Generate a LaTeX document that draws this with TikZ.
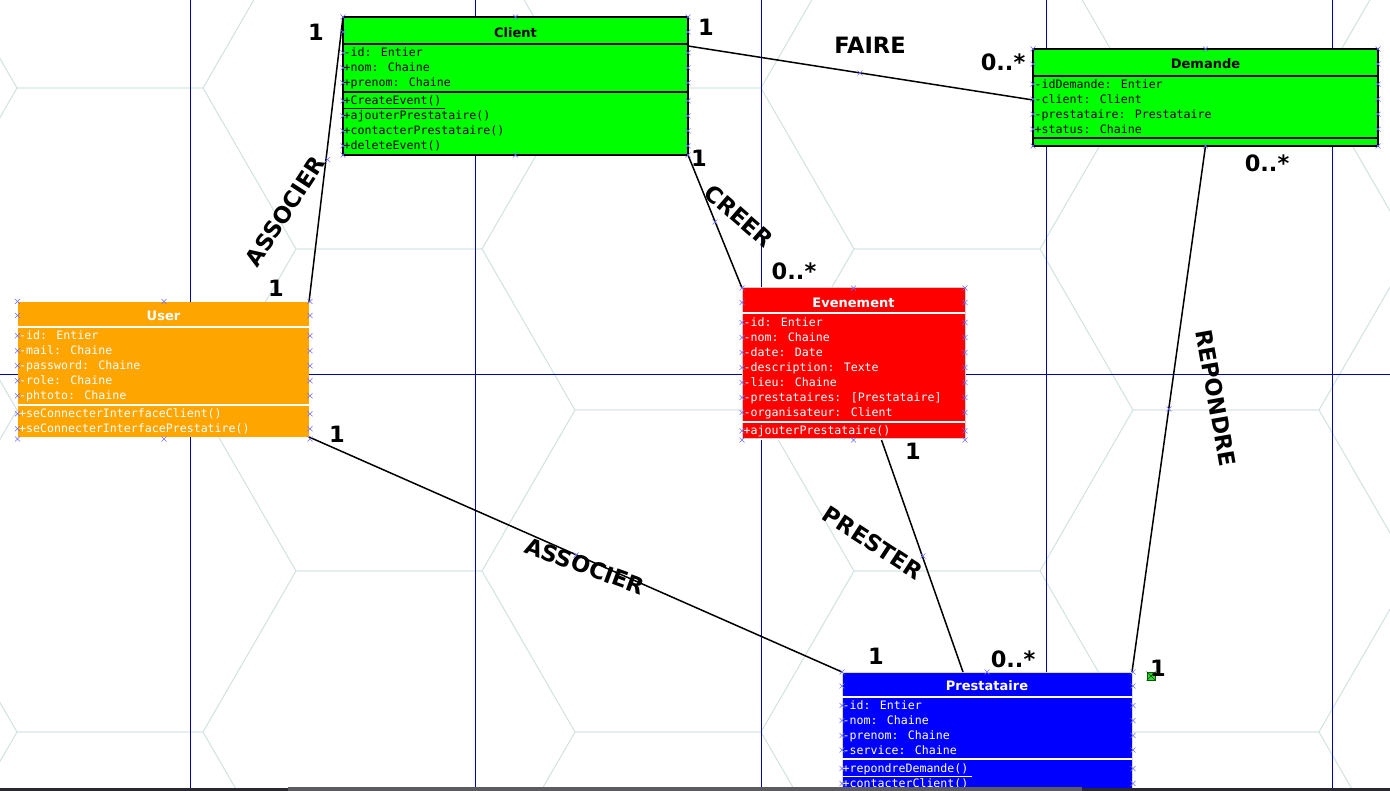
\documentclass[tikz,border=0pt]{standalone}
\usepackage{fontspec}
\setmainfont{DejaVu Sans}
\newfontfamily\monof{DejaVu Sans Mono}
\usetikzlibrary{calc}
\definecolor{hexc}{RGB}{214,228,228}
\definecolor{gridb}{RGB}{0,0,170}
\definecolor{mkc}{RGB}{110,110,255}
\definecolor{cgreen}{RGB}{0,255,0}
\definecolor{corange}{RGB}{255,165,0}
\definecolor{cred}{RGB}{255,0,0}
\definecolor{cblue}{RGB}{0,0,255}
\definecolor{sqfill}{RGB}{60,210,60}
\definecolor{sqdraw}{RGB}{0,90,0}
\definecolor{bardark}{RGB}{40,40,46}
\definecolor{barthumb}{RGB}{92,92,96}
\tikzset{
  classbox/.style={rectangle, inner sep=0pt, outer sep=0pt, anchor=north west},
  hdr/.style={font=\fontsize{13}{15}\selectfont\bfseries, inner sep=0pt},
  row/.style={font=\monof\fontsize{11.6}{14}\selectfont, inner sep=0pt, anchor=base west},
  lbl/.style={font=\fontsize{22.5}{26}\selectfont\bfseries, inner sep=0pt},
  conn/.style={line width=1.5pt, black},
  sepblack/.style={line width=2pt, black},
  sepwhite/.style={line width=2pt, white},
  mk/.pic={\draw[mkc, line width=0.6pt] (-2.5,-2.5)--(2.5,2.5) (-2.5,2.5)--(2.5,-2.5);},
}
\begin{document}
\begin{tikzpicture}[x=1pt, y=-1pt]
\clip (0,0) rectangle (1390,791);
\fill[white] (0,0) rectangle (1390,791);
% hexagonal background grid
\foreach \i in {-1,...,5} {
  \foreach \j in {-1,...,3} {
    \pgfmathsetmacro\cx{110+279*\i}
    \pgfmathsetmacro\cy{249+322*\j-161*mod(abs(\i),2)}
    \draw[hexc, line width=0.8pt] (\cx-186,\cy) -- (\cx-93,\cy-161) -- (\cx+93,\cy-161) -- (\cx+186,\cy) -- (\cx+93,\cy+161) -- (\cx-93,\cy+161) -- cycle;
  }
}
% blue guide lines
\foreach \gx in {190,475.5,761,1046.5,1332} {
  \draw[gridb, line width=0.8pt] (\gx,0) -- (\gx,791);
}
\draw[gridb, line width=0.8pt] (0,374) -- (1390,374);

% class boxes
\node[classbox, fill=cgreen, draw=black, line width=2pt, minimum width=345pt, minimum height=138pt] (client) at (343,17) {};
\node[classbox, fill=cgreen, draw=black, line width=2pt, minimum width=345pt, minimum height=97pt] (demande) at (1033,49) {};
\node[classbox, fill=corange, minimum width=291pt, minimum height=135pt] (user) at (18,302) {};
\node[classbox, fill=cred, draw=black!20, line width=1pt, minimum width=223pt, minimum height=151pt] (evenement) at (742,288) {};
\node[classbox, fill=cblue, draw=black!15, line width=1pt, minimum width=290pt, minimum height=140pt] (prestataire) at (842,672) {};

% compartment separators
\draw[sepblack] (client.west |- 0,44) -- (client.east |- 0,44);
\draw[sepblack] (client.west |- 0,92) -- (client.east |- 0,92);
\draw[sepblack] (demande.west |- 0,76) -- (demande.east |- 0,76);
\draw[sepblack] (demande.west |- 0,138) -- (demande.east |- 0,138);
\draw[sepwhite] (user.west |- 0,327) -- (user.east |- 0,327);
\draw[sepwhite] (user.west |- 0,405) -- (user.east |- 0,405);
\draw[sepwhite] (evenement.west |- 0,313) -- (evenement.east |- 0,313);
\draw[sepwhite] (evenement.west |- 0,422) -- (evenement.east |- 0,422);
\draw[sepwhite] (prestataire.west |- 0,697) -- (prestataire.east |- 0,697);
\draw[sepwhite] (prestataire.west |- 0,759) -- (prestataire.east |- 0,759);

% headers
\node[hdr] (clienth) at (515.5,33) {Client};
\node[hdr] (demandeh) at (1205.5,64) {Demande};
\node[hdr, text=white] (userh) at (163.5,316) {User};
\node[hdr, text=white] (evenementh) at (853.5,303) {Evenement};
\node[hdr, text=white] (prestataireh) at (987,686) {Prestataire};

% Client rows
\foreach \t [count=\i] in {{-id: Entier},{+nom: Chaine},{+prenom: Chaine}}
  \node[row] (cla\i) at (343.5,{52.7+15*(\i-1)+4.2}) {\t};
\node[row] (clm1) at (343.5,{100.8+4.2}) {\underline{+CreateEvent()\hspace{4pt}}};
\foreach \t [count=\i] in {{+ajouterPrestataire()},{+contacterPrestataire()},{+deleteEvent()}}
  \node[row] (clm\i b) at (343.5,{115.8+15*(\i-1)+4.2}) {\t};

% Demande rows
\foreach \t [count=\i] in {{-idDemande: Entier},{-client: Client},{-prestataire: Prestataire},{+status: Chaine}}
  \node[row] (dea\i) at (1034.5,{84.2+15*(\i-1)+4.2}) {\t};

% User rows
\foreach \t [count=\i] in {{-id: Entier},{-mail: Chaine},{-password: Chaine},{-role: Chaine},{-phtoto: Chaine}}
  \node[row, text=white] (usa\i) at (19,{335.8+15*(\i-1)+4.2}) {\t};
\foreach \t [count=\i] in {{+seConnecterInterfaceClient()},{+seConnecterInterfacePrestatire()}}
  \node[row, text=white] (usm\i) at (19,{413.8+15*(\i-1)+4.2}) {\t};

% Evenement rows
\foreach \t [count=\i] in {{-id: Entier},{-nom: Chaine},{-date: Date},{-description: Texte},{-lieu: Chaine},{-prestataires: [Prestataire]},{-organisateur: Client}}
  \node[row, text=white] (eva\i) at (743.5,{322.5+15*(\i-1)+4.2}) {\t};
\node[row, text=white] (evm1) at (743.5,{430.8+4.2}) {\underline{+ajouterPrestataire()\hspace{4pt}}};

% Prestataire rows
\foreach \t [count=\i] in {{-id: Entier},{-nom: Chaine},{-prenom: Chaine},{-service: Chaine}}
  \node[row, text=white] (pra\i) at (842.5,{705.5+15*(\i-1)+4.2}) {\t};
\node[row, text=white] (prm1) at (842.5,{768.5+4.2}) {\underline{+repondreDemande()\hspace{4pt}}};
\node[row, text=white] (prm2) at (842.5,{783.5+4.2}) {+contacterClient()};

% connectors
\draw[conn] (client.north west) -- (user.north east);
\draw[conn] ($(client.north east)+(0,29)$) -- ($(demande.north west)+(0,51)$);
\draw[conn] (client.south east) -- (evenement.north west);
\draw[conn] (user.south east) -- (prestataire.north west);
\draw[conn] ($(evenement.south)+(28,1)$) -- ($(prestataire.north)+(-24,0)$);
\draw[conn] (demande.south) -- (prestataire.north east);

% connection point markers
\foreach \y in {17,32,52.7,67.7,82.7,100.8,115.8,130.8,145.8,155} {
  \pic at (343,\y) {mk}; \pic at (688,\y) {mk};
}
\pic at (515.5,17) {mk}; \pic at (515.5,155) {mk};
\foreach \y in {49,64,84.2,99.2,114.2,129.2,146} {
  \pic at (1033,\y) {mk}; \pic at (1378,\y) {mk};
}
\pic at (1205.5,49) {mk}; \pic at (1205.5,146) {mk};
\foreach \y in {301.5,315.5,335.8,350.8,365.8,380.8,395.8,413.8,428.8,439} {
  \pic at (17.5,\y) {mk}; \pic at (310,\y) {mk};
}
\pic at (164,301.5) {mk}; \pic at (164,439) {mk};
\foreach \y in {288,302.5,322.5,337.5,352.5,367.5,382.5,397.5,412.5,430.8,440} {
  \pic at (742,\y) {mk}; \pic at (965,\y) {mk};
}
\pic at (853.5,288) {mk}; \pic at (853.5,440) {mk};
\foreach \y in {672,686,705.5,720.5,735.5,750,768.5,783.5} {
  \pic at (842,\y) {mk}; \pic at (1133,\y) {mk};
}
\pic at (987,672) {mk};
% bend markers on connectors
\pic at (327.5,159.5) {mk};
\pic at (860,73) {mk};
\pic at (715,222) {mk};
\pic at (576,555) {mk};
\pic at (923,556) {mk};
\pic at (1169,409) {mk};

% small green handle
\node[draw=sqdraw, fill=sqfill, line width=0.8pt, minimum size=8pt, inner sep=0pt] (gsq) at (1151,676) {};
\draw[sqdraw, line width=0.6pt] (gsq.north west) -- (gsq.south east) (gsq.north east) -- (gsq.south west);

% multiplicities and association names
\node[lbl] (m1) at (316,32) {1};
\node[lbl] (m2) at (276,288) {1};
\node[lbl, rotate=57] (assoc1) at (285,211) {ASSOCIER};
\node[lbl] (m3) at (706,27) {1};
\node[lbl] (faire) at (870,45) {FAIRE};
\node[lbl] (m4) at (1003,62) {0..*};
\node[lbl] (m5) at (699,158) {1};
\node[lbl, rotate=-41] (creer) at (739,216) {CREER};
\node[lbl] (m6) at (794,271) {0..*};
\node[lbl] (m7) at (1267,163) {0..*};
\node[lbl, rotate=-80] (repondre) at (1216,398) {REPONDRE};
\node[lbl] (m8) at (1158,668) {1};
\node[lbl] (m9) at (337,434) {1};
\node[lbl, rotate=-20] (assoc2) at (585,566) {ASSOCIER};
\node[lbl] (m10) at (876,656) {1};
\node[lbl] (m11) at (913,451) {1};
\node[lbl, rotate=-33] (prester) at (873,543) {PRESTER};
\node[lbl] (m12) at (1013,659) {0..*};

% bottom scroll bar
\fill[bardark] (0,788) rectangle (1390,791);
\fill[barthumb] (288,787) rectangle (1082,791);
\end{tikzpicture}
\end{document}
